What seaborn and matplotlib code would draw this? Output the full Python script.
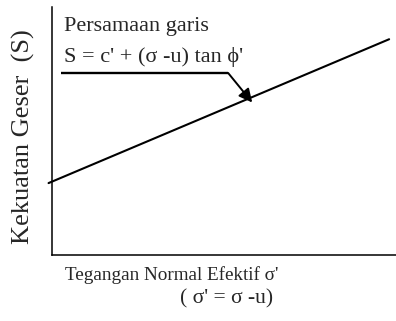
import matplotlib
matplotlib.use("Agg")
import matplotlib.pyplot as plt
import seaborn as sns
import pandas as pd

# Mohr-Coulomb failure envelope (effective stress), schematic units
sigma_eff = [-0.1, 9.8]
shear = [2.9, 8.7]

# leader line from the equation label to the envelope
leader_x = [0.26, 5.12]
leader_y = [7.34, 7.34]
arrow_tip = (5.82, 6.15)

title_lines = ["Persamaan garis", "S = c' + (σ -u) tan ϕ'"]
xlabel_lines = ["Tegangan Normal Efektif σ'", "( σ' = σ -u)"]
ylabel = "Kekuatan Geser  (S)"

sns.set_style("white")
plt.rcParams["font.family"] = ["Liberation Serif", "DejaVu Serif"]

W, H = 396, 321
fig = plt.figure(figsize=(W / 100, H / 100), dpi=100)
ax = fig.add_axes([52 / W, 1 - 255 / H, 1 - 52 / W, 248 / H])

df = pd.DataFrame({"sigma": sigma_eff, "S": shear})
sns.lineplot(data=df, x="sigma", y="S", ax=ax, color="black", linewidth=1.5,
             clip_on=False)

ax.set_xlim(0, 10)
ax.set_ylim(0, 10)
ax.set_xticks([])
ax.set_yticks([])
ax.set_xlabel("")
ax.set_ylabel("")
for side in ["top", "right"]:
    ax.spines[side].set_visible(False)
for side in ["left", "bottom"]:
    ax.spines[side].set_color("black")
    ax.spines[side].set_linewidth(1.1)

ax.plot(leader_x, leader_y, color="black", linewidth=1.7,
        solid_capstyle="butt")
ax.annotate("", xy=arrow_tip, xytext=(leader_x[1], leader_y[1]),
            arrowprops=dict(arrowstyle="-|>", color="black", lw=1.4,
                            mutation_scale=20, shrinkA=0, shrinkB=0))

fig.text(64 / W, 1 - 31 / H, title_lines[0], fontsize=16, va="baseline", ha="left")
fig.text(64 / W, 1 - 62 / H, title_lines[1], fontsize=16, va="baseline", ha="left")
fig.text(65 / W, 1 - 280 / H, xlabel_lines[0], fontsize=13.8, va="baseline", ha="left")
fig.text(180 / W, 1 - 303 / H, xlabel_lines[1], fontsize=15.5, va="baseline", ha="left")
fig.text(23 / W, 1 - 137 / H, ylabel, fontsize=19, rotation=90, va="center", ha="center")

fig.savefig("out.png", dpi=100)
